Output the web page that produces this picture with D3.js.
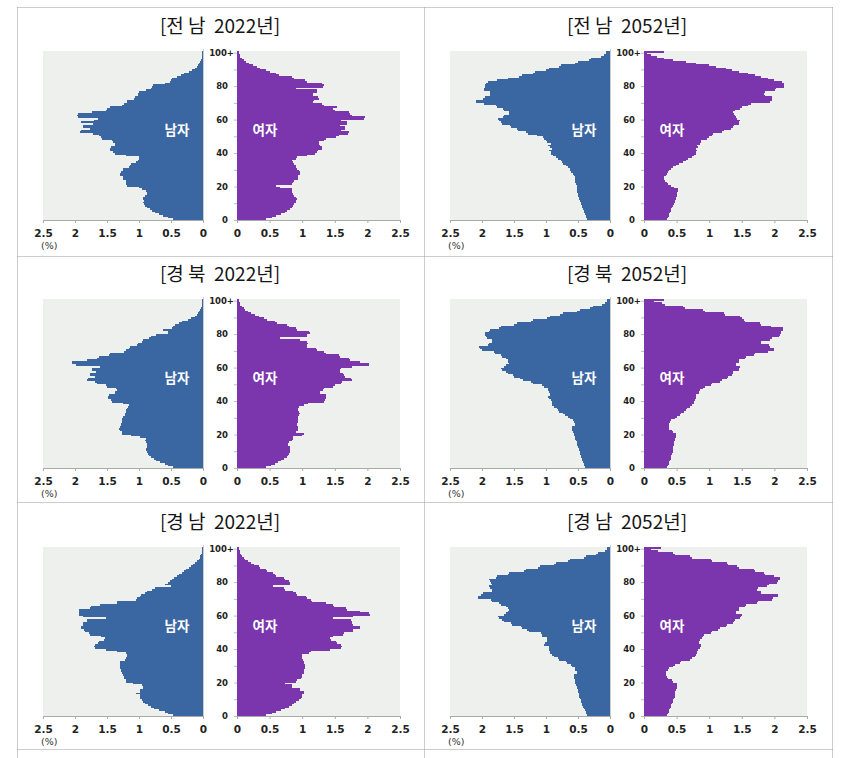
<!DOCTYPE html>
<html><head><meta charset="utf-8">
<script src="https://cdn.jsdelivr.net/npm/d3@7"></script>
<style>
html,body{margin:0;padding:0;background:#fff;}
svg{display:block;}
.title{font-family:"Noto Sans CJK KR","Noto Sans",sans-serif;font-size:19px;fill:#151515;white-space:pre;}
.tick{font-family:"DejaVu Sans",Verdana,sans-serif;font-weight:bold;fill:#222;}
.inner{font-family:"Noto Sans CJK KR",sans-serif;font-weight:bold;font-size:13.5px;fill:#fff;}
</style></head>
<body>
<svg id="chart" width="850" height="758"></svg>
<script>
// ---------- data (% of population by single year of age, 0..100+) ----------
const ages = d3.range(0, 101);
const yTickValues = [0, 20, 40, 60, 80, 100];
const yTickLabels = ["0", "20", "40", "60", "80", "100+"];
const xTickValues = [0, 0.5, 1, 1.5, 2, 2.5];
const xTickLabels = ["0", "0.5", "1", "1.5", "2", "2.5"];
const titles = ["[전 남  2022년]", "[전 남  2052년]", "[경 북  2022년]", "[경 북  2052년]", "[경 남  2022년]", "[경 남  2052년]"];
const maleLabel = "남자", femaleLabel = "여자", unitLabel = "(%)";

const jeonnam2022Male = [0.47,0.55,0.62,0.69,0.75,0.79,0.83,0.87,0.9,0.92,0.93,0.92,0.94,0.93,0.9,0.88,0.88,0.89,0.96,1.0,1.19,1.2,1.2,1.21,1.25,1.25,1.3,1.3,1.28,1.25,1.25,1.15,1.14,1.12,1.04,1.02,1.0,1.0,1.2,1.38,1.4,1.45,1.45,1.44,1.38,1.37,1.4,1.42,1.58,1.6,1.62,1.72,1.92,1.9,1.77,1.88,1.87,1.72,1.9,1.7,1.64,1.95,1.97,1.96,1.74,1.52,1.5,1.46,1.26,1.24,1.19,1.18,1.08,1.06,1.02,1.02,1.0,0.89,0.82,0.8,0.78,0.6,0.52,0.5,0.48,0.4,0.35,0.3,0.22,0.17,0.13,0.1,0.08,0.06,0.04,0.03,0.02,0.02,0.01,0.01,0.01];
const jeonnam2022Female = [0.45,0.53,0.6,0.67,0.73,0.77,0.81,0.84,0.86,0.88,0.9,0.91,0.92,0.91,0.87,0.86,0.85,0.84,0.84,0.66,0.6,0.84,0.86,0.88,0.93,0.94,0.94,0.96,0.96,0.95,0.92,0.91,0.9,0.87,0.86,0.85,0.9,0.92,1.07,1.2,1.22,1.24,1.3,1.3,1.28,1.25,1.25,1.34,1.36,1.52,1.56,1.7,1.72,1.6,1.66,1.66,1.58,1.68,1.68,1.6,1.95,1.96,1.76,1.74,1.72,1.5,1.47,1.53,1.33,1.3,1.17,1.18,1.25,1.24,1.17,1.16,1.22,1.22,0.91,1.32,1.33,1.3,1.08,1.05,0.88,0.84,0.65,0.6,0.5,0.45,0.36,0.3,0.25,0.19,0.14,0.1,0.07,0.05,0.04,0.03,0.03];
const jeonnam2052Male = [0.36,0.37,0.38,0.39,0.4,0.41,0.42,0.43,0.44,0.45,0.46,0.47,0.48,0.49,0.5,0.5,0.51,0.51,0.52,0.52,0.52,0.53,0.54,0.54,0.54,0.55,0.57,0.58,0.61,0.62,0.63,0.66,0.68,0.73,0.75,0.77,0.82,0.84,0.89,0.92,0.92,0.95,0.9,0.93,0.97,0.92,0.98,1.0,1.03,1.05,1.14,1.28,1.32,1.44,1.46,1.55,1.57,1.68,1.7,1.74,1.75,1.67,1.65,1.58,1.58,1.65,1.67,1.76,1.78,1.97,2.1,2.1,1.98,1.96,1.87,1.87,1.88,1.97,1.97,1.95,1.95,1.93,1.91,1.77,1.6,1.42,1.38,1.2,1.17,1.0,0.96,0.8,0.76,0.54,0.5,0.33,0.29,0.14,0.1,0.07,0.06];
const jeonnam2052Female = [0.36,0.37,0.38,0.39,0.4,0.41,0.42,0.43,0.44,0.46,0.47,0.48,0.49,0.49,0.5,0.5,0.51,0.52,0.52,0.46,0.42,0.37,0.35,0.32,0.31,0.31,0.33,0.35,0.37,0.39,0.41,0.45,0.49,0.53,0.6,0.64,0.67,0.73,0.76,0.79,0.8,0.81,0.8,0.83,0.82,0.86,0.87,0.88,0.97,0.99,1.04,1.06,1.19,1.23,1.34,1.36,1.38,1.45,1.46,1.47,1.42,1.41,1.4,1.38,1.37,1.4,1.48,1.5,1.6,1.64,1.94,1.96,1.97,1.96,1.85,1.84,1.86,2.01,2.03,2.14,2.15,2.14,2.12,2.0,1.9,1.8,1.7,1.6,1.45,1.35,1.25,1.1,1.0,0.8,0.65,0.45,0.3,0.2,0.1,0.05,0.31];
const gyeongbuk2022Male = [0.47,0.54,0.6,0.67,0.73,0.77,0.81,0.84,0.86,0.88,0.89,0.89,0.88,0.88,0.87,0.89,0.9,0.89,0.99,1.12,1.26,1.27,1.3,1.31,1.29,1.28,1.28,1.27,1.26,1.27,1.25,1.22,1.22,1.2,1.2,1.19,1.17,1.16,1.25,1.42,1.44,1.48,1.48,1.47,1.38,1.37,1.35,1.36,1.5,1.52,1.66,1.68,1.82,1.8,1.69,1.77,1.76,1.67,1.74,1.73,1.61,1.98,2.05,2.04,1.82,1.65,1.62,1.47,1.45,1.23,1.21,1.16,1.14,1.03,1.01,0.95,0.93,0.84,0.82,0.73,0.55,0.55,0.63,0.48,0.47,0.44,0.37,0.33,0.23,0.18,0.13,0.1,0.08,0.06,0.04,0.03,0.02,0.02,0.01,0.01,0.01];
const gyeongbuk2022Female = [0.45,0.52,0.58,0.63,0.68,0.72,0.76,0.78,0.8,0.81,0.81,0.82,0.81,0.78,0.78,0.79,0.85,0.86,0.86,1.0,1.02,0.91,0.93,0.94,0.94,0.92,0.92,0.93,0.94,0.94,0.93,0.95,0.96,0.95,0.94,0.94,0.95,1.02,1.09,1.33,1.35,1.36,1.37,1.36,1.27,1.27,1.32,1.33,1.47,1.5,1.6,1.61,1.76,1.75,1.66,1.64,1.62,1.58,1.58,1.6,1.76,2.02,2.03,1.89,1.74,1.72,1.58,1.57,1.36,1.34,1.22,1.21,1.08,1.07,1.09,1.08,0.96,0.66,1.07,1.07,1.12,1.1,0.92,0.9,0.79,0.76,0.61,0.58,0.46,0.42,0.33,0.27,0.22,0.17,0.13,0.1,0.07,0.05,0.04,0.03,0.03];
const gyeongbuk2052Male = [0.39,0.4,0.41,0.42,0.43,0.44,0.45,0.46,0.47,0.47,0.48,0.49,0.5,0.51,0.51,0.52,0.53,0.54,0.55,0.56,0.57,0.58,0.6,0.6,0.59,0.55,0.55,0.57,0.58,0.63,0.66,0.71,0.74,0.79,0.81,0.83,0.88,0.9,0.9,0.91,0.92,0.96,0.97,0.93,0.94,0.96,0.97,0.97,1.03,1.06,1.2,1.24,1.36,1.4,1.5,1.52,1.6,1.62,1.68,1.7,1.65,1.63,1.58,1.59,1.6,1.62,1.68,1.7,1.79,1.82,2.0,2.03,2.04,1.9,1.89,1.85,1.85,1.92,1.93,1.95,1.95,1.89,1.87,1.73,1.7,1.5,1.45,1.24,1.2,0.98,0.94,0.78,0.74,0.51,0.47,0.31,0.27,0.12,0.08,0.05,0.04];
const gyeongbuk2052Female = [0.36,0.37,0.38,0.39,0.4,0.41,0.42,0.42,0.43,0.44,0.44,0.45,0.45,0.46,0.46,0.46,0.47,0.48,0.49,0.49,0.49,0.45,0.43,0.39,0.38,0.38,0.38,0.4,0.41,0.48,0.5,0.55,0.57,0.62,0.64,0.66,0.71,0.73,0.76,0.77,0.78,0.79,0.79,0.8,0.84,0.85,0.86,0.91,0.93,1.02,1.04,1.17,1.19,1.27,1.29,1.35,1.36,1.37,1.45,1.46,1.47,1.41,1.41,1.46,1.46,1.55,1.57,1.68,1.7,1.9,2.0,2.0,1.93,1.91,1.79,1.79,1.94,1.96,2.07,2.09,2.1,2.1,2.13,2.13,1.95,1.8,1.78,1.55,1.53,1.5,1.47,1.24,1.22,0.93,0.9,0.63,0.6,0.32,0.28,0.15,0.31];
const gyeongnam2022Male = [0.47,0.54,0.6,0.68,0.76,0.81,0.86,0.9,0.94,0.96,0.98,0.98,0.99,1.04,0.99,0.98,0.94,0.94,0.96,1.09,1.2,1.21,1.24,1.24,1.25,1.27,1.28,1.28,1.3,1.3,1.3,1.29,1.3,1.22,1.21,1.19,1.19,1.2,1.35,1.51,1.69,1.7,1.68,1.64,1.63,1.54,1.53,1.59,1.76,1.78,1.85,1.86,1.9,1.9,1.88,1.87,1.82,1.81,1.51,1.88,1.93,1.93,1.94,1.93,1.77,1.75,1.61,1.35,1.34,1.04,1.03,0.99,0.97,0.9,0.88,0.8,0.75,0.5,0.6,0.55,0.52,0.48,0.45,0.4,0.37,0.33,0.3,0.26,0.22,0.18,0.15,0.12,0.09,0.07,0.05,0.04,0.03,0.02,0.01,0.01,0.01];
const gyeongnam2022Female = [0.45,0.53,0.6,0.67,0.73,0.79,0.84,0.88,0.91,0.95,0.98,0.99,0.99,1.02,1.02,0.97,0.96,0.85,0.84,0.73,0.9,0.92,0.98,0.99,1.0,1.02,1.02,1.03,1.04,1.04,1.04,1.02,1.02,1.01,0.99,0.99,1.0,1.1,1.13,1.43,1.6,1.61,1.6,1.54,1.52,1.44,1.43,1.48,1.62,1.64,1.78,1.78,1.89,1.88,1.78,1.77,1.76,1.75,1.48,1.78,2.04,2.03,1.89,1.69,1.67,1.49,1.47,1.37,1.15,1.13,1.08,1.06,0.92,0.9,0.86,0.74,0.72,0.55,0.82,0.81,0.8,0.74,0.72,0.6,0.58,0.55,0.46,0.44,0.36,0.33,0.26,0.21,0.17,0.13,0.1,0.08,0.06,0.05,0.04,0.03,0.03];
const gyeongnam2052Male = [0.36,0.37,0.38,0.39,0.41,0.42,0.43,0.44,0.45,0.46,0.47,0.48,0.48,0.49,0.5,0.5,0.51,0.52,0.53,0.54,0.55,0.55,0.56,0.56,0.56,0.52,0.52,0.54,0.55,0.59,0.61,0.67,0.69,0.8,0.82,0.88,0.9,0.93,0.94,0.95,0.96,0.96,1.03,1.02,0.99,0.98,0.99,1.06,1.07,1.08,1.27,1.29,1.37,1.39,1.53,1.55,1.66,1.68,1.73,1.75,1.65,1.63,1.59,1.58,1.6,1.62,1.71,1.73,1.84,1.86,2.06,2.07,2.01,1.99,1.85,1.84,1.88,1.89,1.85,1.86,1.88,1.89,1.78,1.76,1.6,1.58,1.34,1.32,1.13,1.1,0.87,0.84,0.66,0.63,0.4,0.37,0.22,0.19,0.08,0.05,0.04];
const gyeongnam2052Female = [0.36,0.37,0.38,0.39,0.4,0.41,0.42,0.43,0.44,0.45,0.46,0.47,0.47,0.48,0.48,0.49,0.5,0.51,0.51,0.51,0.45,0.43,0.37,0.36,0.33,0.33,0.33,0.37,0.39,0.45,0.47,0.55,0.57,0.71,0.73,0.78,0.8,0.81,0.82,0.83,0.86,0.87,0.88,0.85,0.85,0.86,0.89,0.9,0.92,1.02,1.04,1.14,1.16,1.25,1.27,1.37,1.38,1.39,1.48,1.49,1.5,1.41,1.41,1.45,1.46,1.55,1.57,1.73,1.75,1.96,1.98,2.05,2.06,1.79,1.8,1.73,1.75,1.89,1.91,2.04,2.06,2.08,2.08,2.0,1.86,1.84,1.7,1.68,1.45,1.43,1.29,1.27,1.04,1.02,0.73,0.7,0.47,0.44,0.21,0.1,0.26];

const maleSeries = [jeonnam2022Male, jeonnam2052Male, gyeongbuk2022Male, gyeongbuk2052Male, gyeongnam2022Male, gyeongnam2052Male];
const femaleSeries = [jeonnam2022Female, jeonnam2052Female, gyeongbuk2022Female, gyeongbuk2052Female, gyeongnam2022Female, gyeongnam2052Female];

// ---------- layout ----------
const svg = d3.select("#chart");
const maleColor = "#3a67a1", femaleColor = "#7b35ad", bgColor = "#eef0ed";
const colLeft = [43, 450];      // x of 2.5 on male side
const rowBottom = [220, 468, 716];
const halfW = 160, gap = 34, plotH = 169;

// dotted frame
const frame = svg.append("g").attr("fill", "none").attr("stroke", "#9a9a9a")
  .attr("stroke-width", 1).attr("stroke-dasharray", "1,1");
[7.5, 256.5, 502.5, 749.5].forEach(y => frame.append("line").attr("x1", 17.5).attr("x2", 832.5).attr("y1", y).attr("y2", y));
[17.5, 424.5, 832.5].forEach(x => frame.append("line").attr("x1", x).attr("x2", x).attr("y1", 7.5).attr("y2", 758));

titles.forEach((title, i) => {
  const col = i % 2, row = Math.floor(i / 2);
  const x0 = colLeft[col];
  const zeroL = x0 + halfW, zeroR = zeroL + gap;
  const yb = rowBottom[row];
  const g = svg.append("g");

  const xL = d3.scaleLinear().domain([0, 2.5]).range([zeroL, x0]);
  const xR = d3.scaleLinear().domain([0, 2.5]).range([zeroR, zeroR + halfW + 3]);
  const y = d3.scaleLinear().domain([0, 101]).range([yb, yb - plotH]);

  // backgrounds
  g.append("rect").attr("x", xL(2.5)).attr("y", y(101)).attr("width", xL(0) - xL(2.5)).attr("height", y(0) - y(101)).attr("fill", bgColor);
  g.append("rect").attr("x", xR(0)).attr("y", y(101)).attr("width", xR(2.5) - xR(0)).attr("height", y(0) - y(101)).attr("fill", bgColor);

  // bars
  const male = maleSeries[i], female = femaleSeries[i];
  g.append("g").attr("shape-rendering", "crispEdges").selectAll("rect").data(ages).join("rect")
    .attr("x", a => xL(male[a])).attr("width", a => xL(0) - xL(male[a]))
    .attr("y", a => y(a + 1)).attr("height", a => y(a) - y(a + 1)).attr("fill", maleColor);
  g.append("g").attr("shape-rendering", "crispEdges").selectAll("rect").data(ages).join("rect")
    .attr("x", xR(0)).attr("width", a => xR(female[a]) - xR(0))
    .attr("y", a => y(a + 1)).attr("height", a => y(a) - y(a + 1)).attr("fill", femaleColor);

  // x axes
  const axL = d3.axisBottom(xL).tickValues(xTickValues).tickSize(3).tickFormat((d, k) => xTickLabels[k]);
  const axR = d3.axisBottom(xR).tickValues(xTickValues).tickSize(3).tickFormat((d, k) => xTickLabels[k]);
  [axL, axR].forEach(ax => {
    const a = g.append("g").attr("transform", `translate(0,${yb})`).call(ax);
    a.select(".domain").attr("stroke", "#aaa");
    a.selectAll(".tick line").attr("stroke", "#aaa");
    a.selectAll(".tick text").attr("class", "tick").attr("font-size", 10.5).attr("dy", "0.9em").attr("y", 8)
      .style("font-family", '"DejaVu Sans",Verdana,sans-serif').style("font-weight", "bold").attr("fill", "#222");
  });

  // y axis (ticks every 10 on the female side edge, labels between halves)
  const ax = d3.axisLeft(y).tickValues(d3.range(0, 101, 10)).tickSize(3).tickFormat("");
  const ya = g.append("g").attr("transform", `translate(${zeroR},0)`).call(ax);
  ya.select(".domain").remove();
  ya.selectAll(".tick line").attr("stroke", "#bbb");
  g.append("line").attr("x1", zeroL + 0.5).attr("x2", zeroL + 0.5).attr("y1", y(101) - 2).attr("y2", y(0)).attr("stroke", "#ccc");

  g.selectAll("text.ylab").data(yTickValues).join("text").attr("class", "tick ylab")
    .attr("x", (d, k) => zeroL + 25 + (k === 5 ? 6 : 0)).attr("y", d => y(d)).attr("dy", "0.35em")
    .attr("text-anchor", "end").attr("font-size", 8.5).text((d, k) => yTickLabels[k]);

  // unit label
  g.append("text").attr("x", x0 - 2).attr("y", yb + 29).attr("font-size", 9.5)
    .style("font-family", '"DejaVu Sans",sans-serif').attr("fill", "#333").text(unitLabel);

  // title
  g.append("text").attr("class", "title").attr("x", (zeroL + zeroR) / 2).attr("y", yb - 194)
    .attr("text-anchor", "middle").attr("dy", "0.35em").text(title);

  // inner labels
  g.append("text").attr("class", "inner").attr("x", zeroL - 26).attr("y", yb - 90).attr("dy", "0.35em")
    .attr("text-anchor", "middle").text(maleLabel);
  g.append("text").attr("class", "inner").attr("x", zeroR + 28).attr("y", yb - 90).attr("dy", "0.35em")
    .attr("text-anchor", "middle").text(femaleLabel);
});
</script>
</body></html>
